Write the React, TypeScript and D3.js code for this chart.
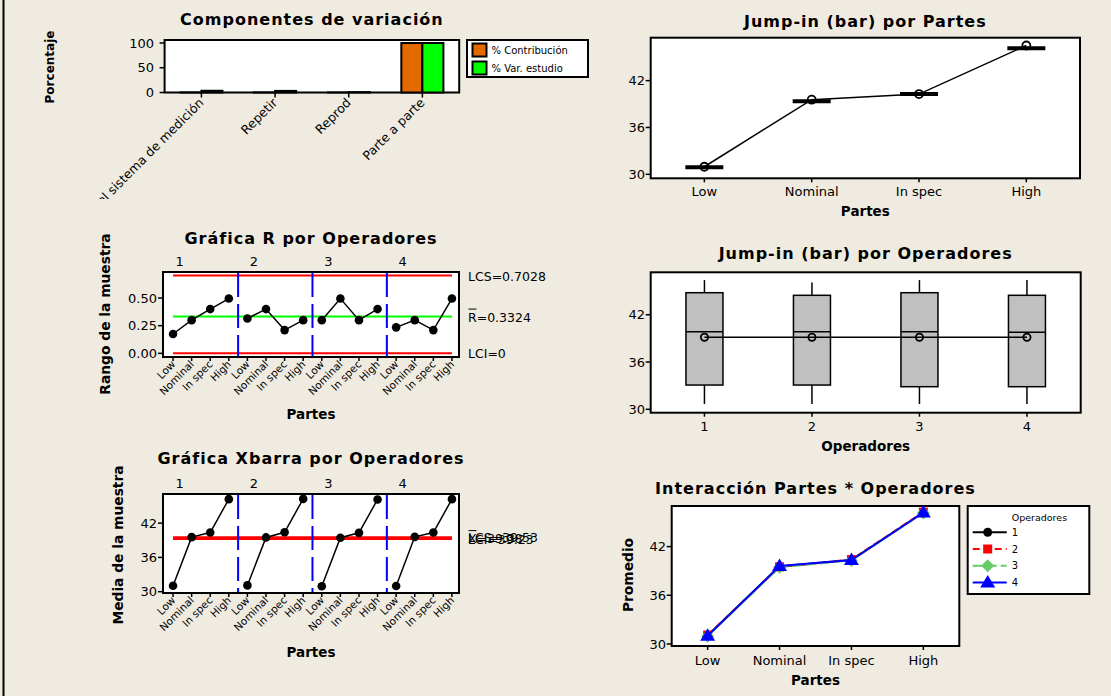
import React from "react";
import * as d3 from "d3";

const W = 1111;
const H = 696;
const FONT = "'DejaVu Sans', Verdana, sans-serif";
const BG = "#efebe1";

// ---------- Components of variation ----------
const componentCats = ["Total del sistema de medición", "Repetir", "Reprod", "Parte a parte"];
const pctContribution = [0.12, 0.1, 0.01, 99.88];
const pctStudyVar = [3.5, 3.2, 0.8, 99.94];
const componentSeries = ["% Contribución", "% Var. estudio"];
const componentColors = ["#e46a00", "#00ff00"];
const pctTicks = [0, 50, 100];

// ---------- Parts / operators ----------
const parts = ["Low", "Nominal", "In spec", "High"];
const operators = ["1", "2", "3", "4"];

// ---------- R chart ----------
const rangesByOperator = [
  [0.175, 0.3, 0.4, 0.495],
  [0.315, 0.4, 0.21, 0.3],
  [0.3, 0.495, 0.3, 0.4],
  [0.235, 0.3, 0.21, 0.495],
];
const rUCL = 0.7028;
const rBar = 0.3324;
const rLCL = 0;
const rTicks = [0, 0.25, 0.5];

// ---------- Xbar chart / interaction ----------
const meansByOperator = [
  [31.05, 39.55, 40.35, 46.2],
  [31.1, 39.5, 40.4, 46.25],
  [30.95, 39.45, 40.3, 46.15],
  [31.0, 39.6, 40.35, 46.2],
];
const xbarUCL = 39.53;
const xbarMean = 39.38;
const xbarLCL = 39.23;
const meanTicks = [30, 36, 42];

// ---------- By parts ----------
const partMeans = [30.97, 39.56, 40.28, 46.5];
const partObs = [30.9, 39.35, 40.3, 46.15];

// ---------- By operators (box plots) ----------
const opQ1 = [33.08, 33.08, 32.87, 32.87];
const opMedian = [39.85, 39.85, 39.85, 39.77];
const opQ3 = [44.8, 44.47, 44.8, 44.47];
const opMin = [30.67, 30.67, 30.67, 30.67];
const opMax = [46.4, 46.1, 46.4, 46.4];
const opMean = [39.15, 39.15, 39.15, 39.15];

const opColors = ["#000000", "#ff0000", "#66cc66", "#0000ff"];
const opDash = ["", "7,4", "10,4", ""];

const TICK_FS = 13;
const TITLE_FS = 16;
const TITLE_LS = 1.0;
const YLAB_FS = 13.8;
const XLAB_FS = 13.5;

function Frame({ fr }: any) {
  return (
    <rect x={fr.l} y={fr.t} width={fr.r - fr.l} height={fr.b - fr.t} fill="#fff" stroke="#000" strokeWidth={2} />
  );
}

function YAxis({ fr, y, ticks, fmt, end }: any) {
  return (
    <g>
      {ticks.map((t: number) => (
        <g key={t}>
          <line x1={fr.l - 5} x2={fr.l} y1={y(t)} y2={y(t)} stroke="#000" strokeWidth={1.5} />
          <text x={end} y={y(t) + 4.7} textAnchor="end" fontSize={TICK_FS}>
            {fmt(t)}
          </text>
        </g>
      ))}
    </g>
  );
}

function RotLabel({ x, y, text, fs = YLAB_FS }: any) {
  return (
    <text transform={`translate(${x},${y}) rotate(-90)`} textAnchor="middle" fontWeight="bold" fontSize={fs}>
      {text}
    </text>
  );
}

function Title({ x, y, text }: any) {
  return (
    <text x={x} y={y} textAnchor="middle" fontWeight="bold" fontSize={TITLE_FS} letterSpacing={TITLE_LS}>
      {text}
    </text>
  );
}

function ComponentsPanel() {
  const fr = { l: 164.6, r: 459.2, t: 40, b: 92.5 };
  const x = d3.scaleBand<string>().domain(componentCats).range([fr.l, fr.r]);
  const xs = d3.scaleBand<string>().domain(componentSeries).range([0, x.bandwidth()]).paddingOuter(0.75);
  const y = d3.scaleLinear().domain([0, 106]).range([fr.b, fr.t]);
  const vals = [pctContribution, pctStudyVar];
  return (
    <g>
      <defs>
        <clipPath id="compClip">
          <rect x={78} y={0} width={W / 2} height={199} />
        </clipPath>
      </defs>
      <Title x={(fr.l + fr.r) / 2} y={25} text="Componentes de variación" />
      <RotLabel x={54} y={67} text="Porcentaje" fs={12} />
      <Frame fr={fr} />
      {componentCats.map((c, i) =>
        componentSeries.map((s, j) => {
          const v = vals[j][i];
          return (
            <rect
              key={c + s}
              x={(x(c) as number) + (xs(s) as number)}
              y={y(v)}
              width={xs.bandwidth()}
              height={y(0) - y(v)}
              fill={componentColors[j]}
              stroke="#000"
              strokeWidth={2}
            />
          );
        })
      )}
      <YAxis fr={fr} y={y} ticks={pctTicks} fmt={(t: number) => String(t)} end={154} />
      {componentCats.map((c) => {
        const cx = (x(c) as number) + x.bandwidth() / 2;
        return (
          <g key={c}>
            <line x1={cx} x2={cx} y1={fr.b} y2={fr.b + 5} stroke="#000" strokeWidth={1.5} />
            <g clipPath="url(#compClip)">
              <text transform={`translate(${cx + 3},${fr.b + 11}) rotate(-45)`} textAnchor="end" fontSize={12.5}>
                {c}
              </text>
            </g>
          </g>
        );
      })}
      <rect x={467} y={40} width={121} height={37} fill="#fff" stroke="#000" strokeWidth={2} />
      {componentSeries.map((s, j) => (
        <g key={s}>
          <rect x={472.5} y={43.5 + j * 18} width={14} height={13} fill={componentColors[j]} stroke="#000" strokeWidth={2} />
          <text x={491.5} y={54 + j * 18} fontSize={10}>
            {s}
          </text>
        </g>
      ))}
    </g>
  );
}

function SubgroupChart(p: any) {
  const { fr, y, yTicks, yFmt, data, limits, rightLabels, title, titleY, groupY, ylabel, ylabelX, ylabelY, xlabelY } = p;
  const x = d3.scaleLinear().domain([0.46, 16.38]).range([fr.l, fr.r]);
  const groups = data.map((vals: number[], g: number) => vals.map((v, k) => ({ i: g * 4 + k + 1, v, part: parts[k] })));
  const flat = groups.flat();
  const line = d3
    .line<any>()
    .x((d) => x(d.i))
    .y((d) => y(d.v));
  return (
    <g>
      <Title x={(fr.l + fr.r) / 2} y={titleY} text={title} />
      {operators.map((o, g) => (
        <text key={o} x={x(g * 4 + 1.35)} y={groupY} textAnchor="middle" fontSize={TICK_FS}>
          {o}
        </text>
      ))}
      <RotLabel x={ylabelX} y={ylabelY} text={ylabel} />
      <Frame fr={fr} />
      {limits.map((l: any, k: number) => (
        <line key={k} x1={x(1)} x2={x(16)} y1={y(l.v)} y2={y(l.v)} stroke={l.color} strokeWidth={2} />
      ))}
      {[4.5, 8.5, 12.5].map((b) => (
        <line key={b} x1={x(b)} x2={x(b)} y1={fr.t + 1} y2={fr.b - 1} stroke="#0000ff" strokeWidth={2} strokeDasharray="24,7" />
      ))}
      {groups.map((g: any[], k: number) => (
        <path key={k} d={line(g) as string} fill="none" stroke="#000" strokeWidth={1.5} />
      ))}
      {flat.map((d: any) => (
        <circle key={d.i} cx={x(d.i)} cy={y(d.v)} r={4.3} fill="#000" />
      ))}
      <YAxis fr={fr} y={y} ticks={yTicks} fmt={yFmt} end={157} />
      {flat.map((d: any) => (
        <g key={"t" + d.i}>
          <line x1={x(d.i)} x2={x(d.i)} y1={fr.b} y2={fr.b + 4} stroke="#000" strokeWidth={1.5} />
          <text transform={`translate(${x(d.i) + 3},${fr.b + 8}) rotate(-45)`} textAnchor="end" fontSize={10.5}>
            {d.part}
          </text>
        </g>
      ))}
      {rightLabels.map((l: any, k: number) => (
        <g key={k}>
          <text x={468} y={y(l.v) + 5} fontSize={12.5}>
            {l.text}
          </text>
          {l.bar ? <line x1={468.5} x2={476.5} y1={y(l.v) - 7.5} y2={y(l.v) - 7.5} stroke="#000" strokeWidth={1} /> : null}
        </g>
      ))}
      <text x={(fr.l + fr.r) / 2} y={xlabelY} textAnchor="middle" fontWeight="bold" fontSize={XLAB_FS}>
        Partes
      </text>
    </g>
  );
}

function RPanel() {
  const fr = { l: 163, r: 459, t: 272, b: 357 };
  const y = d3.scaleLinear().domain([-0.033, 0.735]).range([fr.b, fr.t]);
  return (
    <SubgroupChart
      fr={fr}
      y={y}
      yTicks={rTicks}
      yFmt={d3.format(".2f")}
      data={rangesByOperator}
      limits={[
        { v: rUCL, color: "#ff0000" },
        { v: rBar, color: "#00ff00" },
        { v: rLCL, color: "#ff0000" },
      ]}
      rightLabels={[
        { text: `LCS=${rUCL}`, v: rUCL },
        { text: `R=${rBar}`, v: rBar, bar: true },
        { text: `LCI=${rLCL}`, v: rLCL },
      ]}
      title="Gráfica R por Operadores"
      titleY={244}
      groupY={266}
      ylabel="Rango de la muestra"
      ylabelX={110}
      ylabelY={314}
      xlabelY={419}
    />
  );
}

function XbarPanel() {
  const fr = { l: 163, r: 459, t: 494, b: 593 };
  const y = d3.scaleLinear().domain([29.77, 47.1]).range([fr.b, fr.t]);
  return (
    <SubgroupChart
      fr={fr}
      y={y}
      yTicks={meanTicks}
      yFmt={(t: number) => String(t)}
      data={meansByOperator}
      limits={[
        { v: xbarMean, color: "#00ff00" },
        { v: xbarUCL, color: "#ff0000" },
        { v: xbarLCL, color: "#ff0000" },
      ]}
      rightLabels={[
        { text: `LCS=${xbarUCL.toFixed(2)}`, v: xbarUCL },
        { text: `X=${xbarMean.toFixed(2)}`, v: xbarMean, bar: true },
        { text: `LCI=${xbarLCL.toFixed(2)}`, v: xbarLCL },
      ]}
      title="Gráfica Xbarra por Operadores"
      titleY={464}
      groupY={488}
      ylabel="Media de la muestra"
      ylabelX={123}
      ylabelY={545}
      xlabelY={657}
    />
  );
}

function PartsPanel() {
  const fr = { l: 650.7, r: 1080, t: 37.7, b: 178.3 };
  const x = d3.scaleLinear().domain([0.5, 4.5]).range([fr.l, fr.r]);
  const y = d3.scaleLinear().domain([29.49, 47.5]).range([fr.b, fr.t]);
  const pts = partMeans.map((m, i) => ({ i: i + 1, m, o: partObs[i] }));
  const line = d3
    .line<any>()
    .x((d) => x(d.i))
    .y((d) => y(d.m));
  return (
    <g>
      <Title x={(fr.l + fr.r) / 2} y={26.5} text="Jump-in  (bar) por Partes" />
      <Frame fr={fr} />
      {pts.map((d) => (
        <line key={"o" + d.i} x1={x(d.i) - 19} x2={x(d.i) + 19} y1={y(d.o)} y2={y(d.o)} stroke="#000" strokeWidth={4} />
      ))}
      <path d={line(pts) as string} fill="none" stroke="#000" strokeWidth={1.5} />
      {pts.map((d) => (
        <circle key={"m" + d.i} cx={x(d.i)} cy={y(d.m)} r={4} fill="none" stroke="#000" strokeWidth={1.8} />
      ))}
      <YAxis fr={fr} y={y} ticks={meanTicks} fmt={(t: number) => String(t)} end={645} />
      {parts.map((p, i) => (
        <g key={p}>
          <line x1={x(i + 1)} x2={x(i + 1)} y1={fr.b} y2={fr.b + 4} stroke="#000" strokeWidth={1.5} />
          <text x={x(i + 1)} y={196} textAnchor="middle" fontSize={TICK_FS}>
            {p}
          </text>
        </g>
      ))}
      <text x={(fr.l + fr.r) / 2} y={215.5} textAnchor="middle" fontWeight="bold" fontSize={XLAB_FS}>
        Partes
      </text>
    </g>
  );
}

function OperatorsPanel() {
  const fr = { l: 650.7, r: 1080.7, t: 272.3, b: 412.7 };
  const x = d3.scaleLinear().domain([0.5, 4.5]).range([fr.l, fr.r]);
  const y = d3.scaleLinear().domain([29.57, 47.39]).range([fr.b, fr.t]);
  const bw = 37;
  const line = d3
    .line<number>()
    .x((_, i) => x(i + 1))
    .y((d) => y(d));
  return (
    <g>
      <Title x={(fr.l + fr.r) / 2} y={259} text="Jump-in  (bar) por Operadores" />
      <Frame fr={fr} />
      {operators.map((o, i) => {
        const cx = x(i + 1);
        return (
          <g key={o}>
            <line x1={cx} x2={cx} y1={y(opMax[i])} y2={y(opQ3[i])} stroke="#000" strokeWidth={1.5} />
            <line x1={cx} x2={cx} y1={y(opQ1[i])} y2={y(opMin[i])} stroke="#000" strokeWidth={1.5} />
            <rect
              x={cx - bw / 2}
              y={y(opQ3[i])}
              width={bw}
              height={y(opQ1[i]) - y(opQ3[i])}
              fill="#c0c0c0"
              stroke="#000"
              strokeWidth={1.5}
            />
            <line x1={cx - bw / 2} x2={cx + bw / 2} y1={y(opMedian[i])} y2={y(opMedian[i])} stroke="#000" strokeWidth={1.5} />
          </g>
        );
      })}
      <path d={line(opMean) as string} fill="none" stroke="#000" strokeWidth={1.5} />
      {opMean.map((m, i) => (
        <circle key={i} cx={x(i + 1)} cy={y(m)} r={3.6} fill="none" stroke="#000" strokeWidth={1.8} />
      ))}
      <YAxis fr={fr} y={y} ticks={meanTicks} fmt={(t: number) => String(t)} end={645} />
      {operators.map((o, i) => (
        <g key={"t" + o}>
          <line x1={x(i + 1)} x2={x(i + 1)} y1={fr.b} y2={fr.b + 4} stroke="#000" strokeWidth={1.5} />
          <text x={x(i + 1)} y={431} textAnchor="middle" fontSize={TICK_FS}>
            {o}
          </text>
        </g>
      ))}
      <text x={(fr.l + fr.r) / 2} y={451} textAnchor="middle" fontWeight="bold" fontSize={XLAB_FS}>
        Operadores
      </text>
    </g>
  );
}

function Marker({ k, x, y, color }: any) {
  if (k === 0) return <circle cx={x} cy={y} r={4.5} fill={color} />;
  if (k === 1) return <rect x={x - 4.5} y={y - 4.5} width={9} height={9} fill={color} />;
  if (k === 2) return <path d={`M${x},${y - 6.5}L${x + 6.5},${y}L${x},${y + 6.5}L${x - 6.5},${y}Z`} fill={color} />;
  return <path d={`M${x},${y - 7.5}L${x + 7.5},${y + 5}L${x - 7.5},${y + 5}Z`} fill={color} />;
}

function InteractionPanel() {
  const fr = { l: 671.7, r: 959.3, t: 506, b: 646 };
  const x = d3.scaleLinear().domain([0.5, 4.5]).range([fr.l, fr.r]);
  const y = d3.scaleLinear().domain([29.75, 47.0]).range([fr.b, fr.t]);
  const line = d3
    .line<number>()
    .x((_, i) => x(i + 1))
    .y((d) => y(d));
  return (
    <g>
      <Title x={(fr.l + fr.r) / 2} y={494} text="Interacción Partes * Operadores" />
      <RotLabel x={633} y={575} text="Promedio" />
      <Frame fr={fr} />
      {meansByOperator.map((vals, k) => (
        <g key={k}>
          <path d={line(vals) as string} fill="none" stroke={opColors[k]} strokeWidth={2} strokeDasharray={opDash[k] || undefined} />
          {vals.map((v, i) => (
            <Marker key={i} k={k} x={x(i + 1)} y={y(v)} color={opColors[k]} />
          ))}
        </g>
      ))}
      <YAxis fr={fr} y={y} ticks={meanTicks} fmt={(t: number) => String(t)} end={666} />
      {parts.map((p, i) => (
        <g key={p}>
          <line x1={x(i + 1)} x2={x(i + 1)} y1={fr.b} y2={fr.b + 4} stroke="#000" strokeWidth={1.5} />
          <text x={x(i + 1)} y={664.5} textAnchor="middle" fontSize={TICK_FS}>
            {p}
          </text>
        </g>
      ))}
      <text x={(fr.l + fr.r) / 2} y={685} textAnchor="middle" fontWeight="bold" fontSize={XLAB_FS}>
        Partes
      </text>
      <rect x={967.7} y={506} width={121.6} height={88} fill="#fff" stroke="#000" strokeWidth={2} />
      <text x={1011.7} y={521} fontSize={9.5}>
        Operadores
      </text>
      {operators.map((o, k) => {
        const ly = 532.3 + k * 16.7;
        return (
          <g key={o}>
            <line x1={972.7} x2={1006.7} y1={ly} y2={ly} stroke={opColors[k]} strokeWidth={2} strokeDasharray={opDash[k] || undefined} />
            <Marker k={k} x={987.7} y={ly} color={opColors[k]} />
            <text x={1011.7} y={ly + 3.5} fontSize={10}>
              {o}
            </text>
          </g>
        );
      })}
    </g>
  );
}

export default function App() {
  return (
    <svg
      width={W}
      height={H}
      viewBox={`0 0 ${W} ${H}`}
      style={{ position: "absolute", left: 0, top: 0, display: "block" }}
      fontFamily={FONT}
    >
      <rect width={W} height={H} fill={BG} />
      <line x1={3.5} x2={3.5} y1={0} y2={H} stroke="#000" strokeWidth={2} />
      <ComponentsPanel />
      <RPanel />
      <XbarPanel />
      <PartsPanel />
      <OperatorsPanel />
      <InteractionPanel />
    </svg>
  );
}
